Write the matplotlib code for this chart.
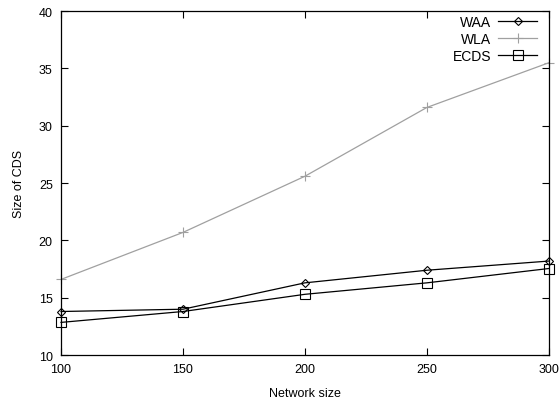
import matplotlib
matplotlib.use("Agg")
import matplotlib.pyplot as plt

plt.rcParams['font.family'] = ['Liberation Sans', 'DejaVu Sans']

network_size = [100, 150, 200, 250, 300]
waa = [13.8, 14.0, 16.3, 17.4, 18.2]
wla = [16.6, 20.7, 25.6, 31.6, 35.5]
ecds = [12.85, 13.8, 15.3, 16.3, 17.55]

fig = plt.figure(figsize=(5.6, 4.06), dpi=100)
ax = fig.add_axes([0.109, 0.123, 0.871, 0.847])

ax.plot(network_size, waa, color='black', lw=0.9, marker='D', markersize=4.5,
        markerfacecolor='none', markeredgewidth=0.8, label='WAA', clip_on=False)
ax.plot(network_size, wla, color='#a0a0a0', lw=0.9, marker='+', markersize=7,
        markeredgewidth=0.8, label='WLA', clip_on=False)
ax.plot(network_size, ecds, color='black', lw=0.9, marker='s', markersize=7,
        markerfacecolor='none', markeredgewidth=0.8, label='ECDS', clip_on=False)

ax.set_xlim(100, 300)
ax.set_ylim(10, 40)
ax.set_xticks(network_size)
ax.set_yticks([10, 15, 20, 25, 30, 35, 40])
ax.tick_params(direction='in', top=True, right=True, length=5, width=0.8, labelsize=9, pad=6)
for s in ax.spines.values():
    s.set_linewidth(0.9)

ax.set_xlabel('Network size', fontsize=9, labelpad=8)
ax.set_ylabel('Size of CDS', fontsize=9, labelpad=10)

leg = ax.legend(loc='upper right', markerfirst=False, frameon=False, fontsize=10,
                handlelength=2.8, borderaxespad=0.1, borderpad=0.2, labelspacing=0.2,
                handletextpad=0.5, bbox_to_anchor=(0.985, 1.0))

fig.savefig('out.png', dpi=100)
